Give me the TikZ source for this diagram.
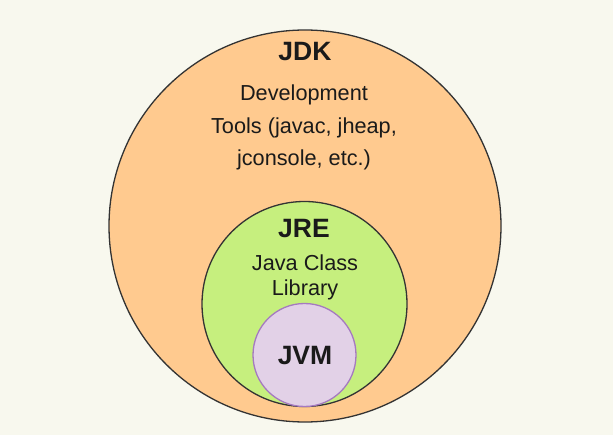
\documentclass[tikz,border=0pt]{standalone}
\usepackage{fontspec}
\setmainfont{Liberation Sans}
\definecolor{bgc}{HTML}{F8F8EE}
\definecolor{jdkc}{HTML}{FFCA8F}
\definecolor{jrec}{HTML}{C6EF7E}
\definecolor{jvmc}{HTML}{E2D1E7}
\definecolor{jvmline}{HTML}{A57AC0}
\definecolor{linec}{HTML}{333333}
\definecolor{txt}{HTML}{1A1A1A}
\begin{document}
\begin{tikzpicture}[x=1pt,y=-1pt,
  ring/.style={circle,draw=linec,line width=1.3pt,inner sep=0pt},
  title/.style={anchor=base,font=\bfseries\fontsize{26.5}{30}\selectfont,text=txt,inner sep=0pt},
  body/.style={anchor=base,font=\fontsize{21.7}{25}\selectfont,text=txt,inner sep=0pt}]
\fill[bgc] (0,0) rectangle (613,435);
\useasboundingbox (0,0) rectangle (613,435);
\node[ring,fill=jdkc,minimum size=392pt] (jdk) at (305,226) {};
\node[ring,fill=jrec,minimum size=205pt] (jre) at (304.5,304) {};
\node[circle,draw=jvmline,line width=1.3pt,fill=jvmc,inner sep=0pt,minimum size=103pt] (jvm) at (304.5,355) {};
\node[title] (jdkt) at (305,61) {JDK};
\node[body] (dev1) at (304,100.5) {Development};
\node[body] (dev2) at (304,133.5) {Tools (javac, jheap,};
\node[body] (dev3) at (304,166) {jconsole, etc.)};
\node[title] (jret) at (304,237.5) {JRE};
\node[body] (lib1) at (305,270.5) {Java Class};
\node[body] (lib2) at (305,296) {Library};
\node[title] (jvmt) at (305,365) {JVM};
\end{tikzpicture}
\end{document}
